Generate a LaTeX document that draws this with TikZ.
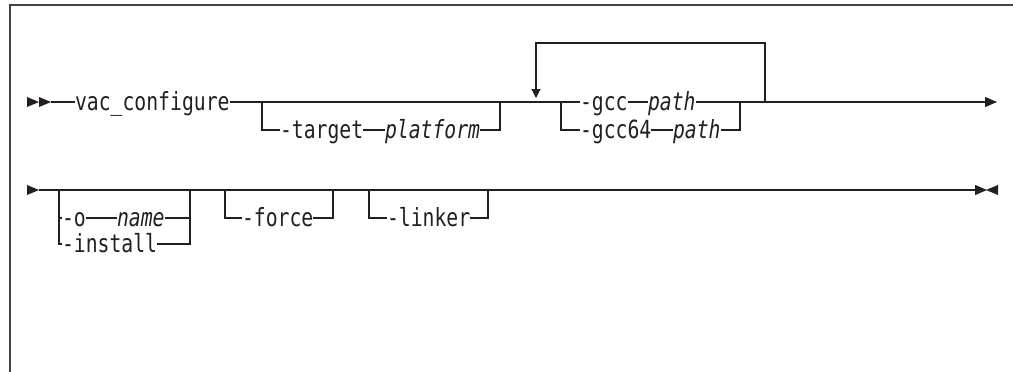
\documentclass[tikz,border=0pt]{standalone}
\usepackage{fontspec}
\usetikzlibrary{positioning}
\usetikzlibrary{arrows.meta}
\newfontfamily\synfont{DejaVu Sans Mono}[FakeStretch=0.79,ItalicFont=DejaVu Sans Mono Oblique]
\definecolor{ink}{RGB}{35,31,32}
\tikzset{
	every node/.style = {font=\synfont\fontsize{25}{28}\selectfont, text=ink, inner sep=0pt, outer sep=0pt, text height=18pt, text depth=2pt, anchor=west},
	varname/.style = {font=\synfont\itshape\fontsize{25}{28}\selectfont},
	rail/.style = {line width=1.1pt, draw=ink},
	tip/.style = {-{Triangle[length=12pt,width=10pt]}},
	rtri/.pic = {\fill[ink] (0,-5) -- (12,0) -- (0,5) -- cycle;}
}

\begin{document}
\begin{tikzpicture}[x=1pt, y=-1pt]
	\useasboundingbox (0,0) rectangle (1013,372);
	% frame
	\draw[line width=1.4pt, draw=ink!85] (10,372) -- (10,5) -- (1013,5);

	% row 1
	\foreach \i in {27, 39} \pic at (\i,102) {rtri};
	\coordinate (s1) at (51,102);
	\node (cmd) at (75,102) {vac\_configure};
	\coordinate (b1) at (262,102);
	\coordinate (j1) at (500,102);
	\node (tgt) at (280,130) {-target};
	\node[varname] (plat) at (385,130) {platform};
	\coordinate (b2) at (561,102);
	\node (gcc) at (580,102) {-gcc};
	\node[varname] (gpath) at (648,102) {path};
	\node (gcc64) at (580,130) {-gcc64};
	\node[varname] (g64path) at (673,130) {path};
	\coordinate (j2) at (740,102);
	\coordinate (lpr) at (765,102);
	\coordinate (lptop) at (765,43);
	\coordinate (lpin) at (536,98);
	\coordinate (e1) at (997,102);

	\draw[rail] (s1) -- (cmd.west);
	\draw[rail] (cmd.east) -- (gcc.west);
	\draw[rail] (b1) |- (tgt.west);
	\draw[rail] (tgt.east) -- (plat.west);
	\draw[rail] (plat.east) -| (j1);
	\draw[rail] (b2) |- (gcc64.west);
	\draw[rail] (gcc.east) -- (gpath.west);
	\draw[rail] (gcc64.east) -- (g64path.west);
	\draw[rail] (g64path.east) -| (j2);
	\draw[rail, tip] (gpath.east) -- (e1);
	% repeat
	\draw[rail, -{Triangle[length=9pt,width=9pt]}] (lpr) -- (lptop) -| (lpin);

	% row 2
	\pic at (27,190) {rtri};
	\coordinate (s2) at (39,190);
	\coordinate (a1) at (59,190);
	\node (o) at (62,218) {-o};
	\node[varname] (oname) at (117,218) {name};
	\node (inst) at (62,244) {-install};
	\coordinate (a2) at (190,190);
	\coordinate (f1) at (225,190);
	\node (force) at (242,218) {-force};
	\coordinate (f2) at (333,190);
	\coordinate (k1) at (369,190);
	\node (lnk) at (387,218) {-linker};
	\coordinate (k2) at (488,190);
	\coordinate (e2) at (987,190);
	\pic[rotate=180] at (998,190) {rtri};

	\draw[rail, tip] (s2) -- (e2);
	\draw[rail] (a1) |- (inst.west);
	\draw[rail] (a1 |- o.west) -- (o.west);
	\draw[rail] (o.east) -- (oname.west);
	\draw[rail] (oname.east) -- (a2 |- oname.east);
	\draw[rail] (inst.east) -| (a2);
	\draw[rail] (f1) |- (force.west);
	\draw[rail] (force.east) -| (f2);
	\draw[rail] (k1) |- (lnk.west);
	\draw[rail] (lnk.east) -| (k2);
\end{tikzpicture}
\end{document}
